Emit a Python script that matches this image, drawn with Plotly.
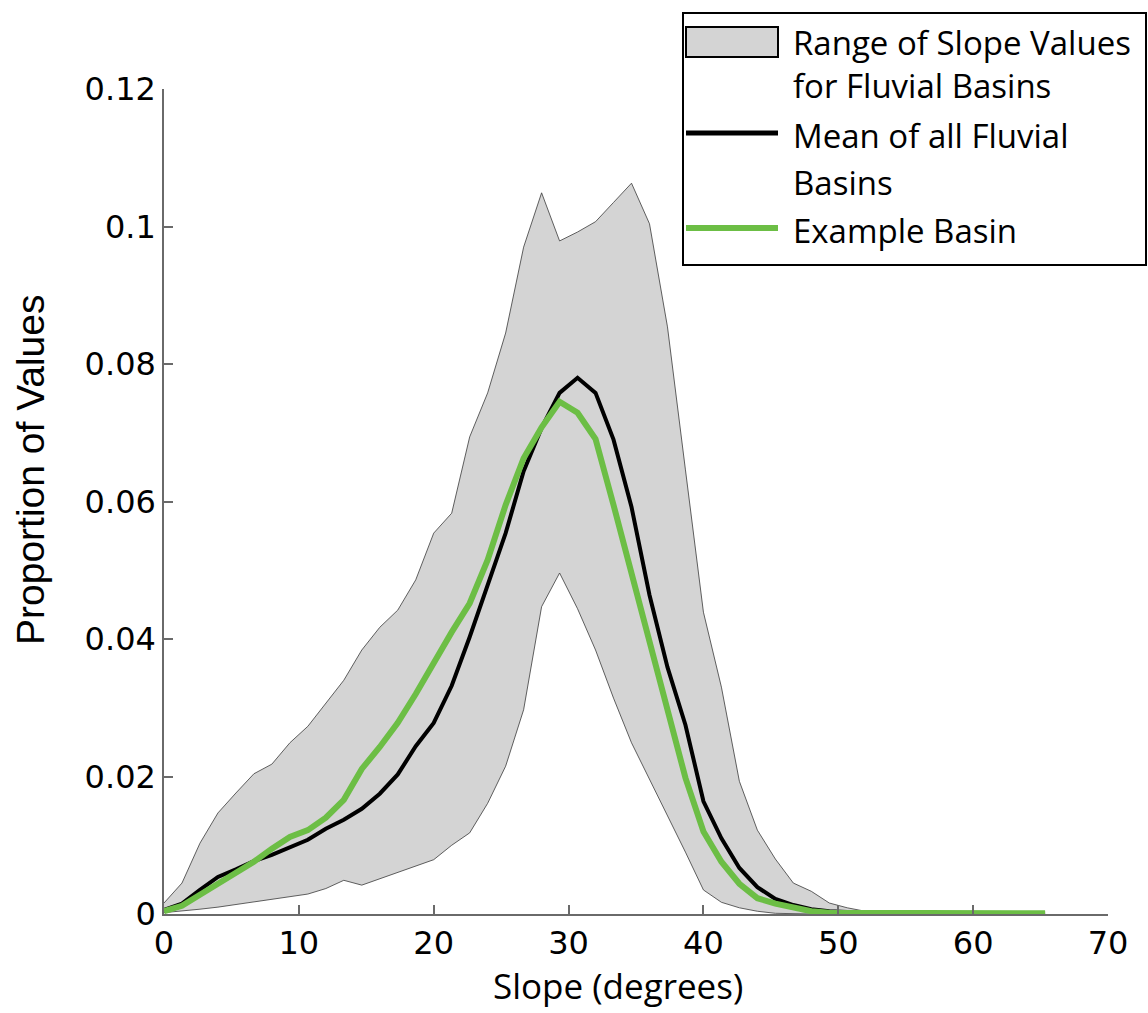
import plotly.graph_objects as go

# ---- data ----
slope_step = 4.0 / 3.0
n_bins = 50
slope = [round(k * slope_step, 4) for k in range(n_bins)]

range_upper = [0.0016, 0.0045, 0.0103, 0.0147, 0.0176, 0.0204, 0.0218, 0.0249, 0.0273, 0.0307,
               0.0340, 0.0384, 0.0417, 0.0442, 0.0486, 0.0554, 0.0583, 0.0694, 0.0758, 0.0845,
               0.0970, 0.1049, 0.0979, 0.0992, 0.1007, 0.1035, 0.1063, 0.1004, 0.0854, 0.0646,
               0.0439, 0.0330, 0.0193, 0.0122, 0.0080, 0.0045, 0.0033, 0.0016, 0.0009, 0.0004,
               0.0002, 0.0001, 0.0001, 0.0001, 0.0001, 0.0001, 0.0001, 0.0001, 0.0001, 0.0001]

range_lower = [0.0002, 0.0004, 0.0007, 0.0010, 0.0014, 0.0018, 0.0022, 0.0025, 0.0029, 0.0037,
               0.0049, 0.0042, 0.0051, 0.0060, 0.0070, 0.0079, 0.0100, 0.0118, 0.0161, 0.0215,
               0.0297, 0.0447, 0.0496, 0.0444, 0.0384, 0.0314, 0.0249, 0.0196, 0.0144, 0.0090,
               0.0035, 0.0017, 0.0009, 0.0004, 0.0001, 0.0000, 0.0000, 0.0000, 0.0000, 0.0000,
               0.0000, 0.0000, 0.0000, 0.0000, 0.0000, 0.0000, 0.0000, 0.0000, 0.0000, 0.0000]

mean_fluvial = [0.0006, 0.0015, 0.0035, 0.0054, 0.0065, 0.0077, 0.0086, 0.0097, 0.0108, 0.0124,
                0.0137, 0.0153, 0.0175, 0.0203, 0.0244, 0.0278, 0.0332, 0.0403, 0.0479, 0.0554,
                0.0644, 0.0707, 0.0758, 0.0780, 0.0758, 0.0690, 0.0592, 0.0464, 0.0359, 0.0275,
                0.0164, 0.0110, 0.0067, 0.0039, 0.0022, 0.0013, 0.0007, 0.0004, 0.0003, 0.0002,
                0.0001, 0.0001, 0.0001, 0.0001, 0.0001, 0.0001, 0.0001, 0.0001, 0.0001, 0.0001]

example_basin = [0.0004, 0.0012, 0.0028, 0.0044, 0.0058, 0.0076, 0.0095, 0.0112, 0.0122, 0.0140,
                 0.0166, 0.0211, 0.0243, 0.0278, 0.0320, 0.0367, 0.0410, 0.0452, 0.0515, 0.0595,
                 0.0663, 0.0708, 0.0745, 0.0729, 0.0691, 0.0595, 0.0495, 0.0391, 0.0297, 0.0198,
                 0.0120, 0.0076, 0.0044, 0.0023, 0.0015, 0.0009, 0.0004, 0.0002, 0.0002, 0.0002,
                 0.0002, 0.0002, 0.0001, 0.0001, 0.0001, 0.0001, 0.0001, 0.0001, 0.0001, 0.0001]

x_ticks = [0, 10, 20, 30, 40, 50, 60, 70]
y_ticks = [0, 0.02, 0.04, 0.06, 0.08, 0.1, 0.12]
y_tick_text = ["0", "0.02", "0.04", "0.06", "0.08", "0.1", "0.12"]

legend_lines = ["Range of Slope Values", "for Fluvial Basins",
                "Mean of all Fluvial", "Basins", "Example Basin"]
x_title = "Slope (degrees)"
y_title = "Proportion of Values"

# ---- styles ----
FILL = "#d4d4d4"
EDGE = "#3a3a3a"
GREEN = "#6cbe45"
AXIS = "#6a6a6a"
W, H = 1148, 1013
L, R, T, B = 164, 40, 89, 99
PW, PH = W - L - R, H - T - B


def px_x(p):
    return (p - L) / PW


def px_y(p):
    return (H - B - p) / PH


fig = go.Figure()
fig.add_trace(go.Scatter(x=slope, y=range_lower, mode="lines",
                         line=dict(color=EDGE, width=0.8), showlegend=False,
                         hoverinfo="skip"))
fig.add_trace(go.Scatter(x=slope, y=range_upper, mode="lines", fill="tonexty",
                         fillcolor=FILL, line=dict(color=EDGE, width=0.8),
                         showlegend=False, hoverinfo="skip"))
fig.add_trace(go.Scatter(x=slope, y=mean_fluvial, mode="lines",
                         line=dict(color="black", width=4), showlegend=False))
fig.add_trace(go.Scatter(x=slope, y=example_basin, mode="lines",
                         line=dict(color=GREEN, width=6), showlegend=False))

tickfont = dict(family="DejaVu Sans", size=32, color="black")
fig.update_layout(
    width=W, height=H,
    margin=dict(l=L, r=R, t=T, b=B),
    paper_bgcolor="white", plot_bgcolor="white",
    xaxis=dict(range=[0, 70], tickvals=x_ticks, showgrid=False, zeroline=False,
               showline=True, linecolor=AXIS, linewidth=1.5, ticks="inside",
               ticklen=9, tickwidth=1.5, tickcolor=AXIS, tickfont=tickfont),
    yaxis=dict(range=[0, 0.12], tickvals=y_ticks, ticktext=y_tick_text,
               showgrid=False, zeroline=False, showline=True, linecolor=AXIS,
               linewidth=1.5, ticks="inside", ticklen=9, tickwidth=1.5,
               tickcolor=AXIS, tickfont=tickfont),
    showlegend=False,
)

shapes = []
annotations = []

# axis titles
annotations.append(dict(text=x_title, x=px_x(618), y=px_y(1011), xref="paper", yref="paper",
                        xanchor="center", yanchor="bottom", showarrow=False,
                        font=dict(family="Open Sans", size=35, color="black")))
annotations.append(dict(text=y_title, x=px_x(30), y=px_y(470), xref="paper", yref="paper",
                        xanchor="center", yanchor="middle", showarrow=False, textangle=-90,
                        font=dict(family="Liberation Sans", size=39, color="black")))

# manual legend box
shapes.append(dict(type="rect", xref="paper", yref="paper",
                   x0=px_x(683), x1=px_x(1146), y0=px_y(265), y1=px_y(13),
                   line=dict(color="black", width=2), fillcolor="white", layer="above"))
shapes.append(dict(type="rect", xref="paper", yref="paper",
                   x0=px_x(686), x1=px_x(778), y0=px_y(57), y1=px_y(27),
                   line=dict(color="black", width=2), fillcolor=FILL, layer="above"))
shapes.append(dict(type="line", xref="paper", yref="paper",
                   x0=px_x(686), x1=px_x(778), y0=px_y(133), y1=px_y(133),
                   line=dict(color="black", width=5), layer="above"))
shapes.append(dict(type="line", xref="paper", yref="paper",
                   x0=px_x(686), x1=px_x(778), y0=px_y(228), y1=px_y(228),
                   line=dict(color=GREEN, width=6), layer="above"))

legend_y = [42, 86, 135, 183, 230]
for txt, yy in zip(legend_lines, legend_y):
    annotations.append(dict(text=txt, x=px_x(791), y=px_y(yy), xref="paper", yref="paper",
                            xanchor="left", yanchor="middle", showarrow=False,
                            font=dict(family="Open Sans", size=33, color="black")))

fig.update_layout(shapes=shapes, annotations=annotations)
fig.write_html("out.html")
